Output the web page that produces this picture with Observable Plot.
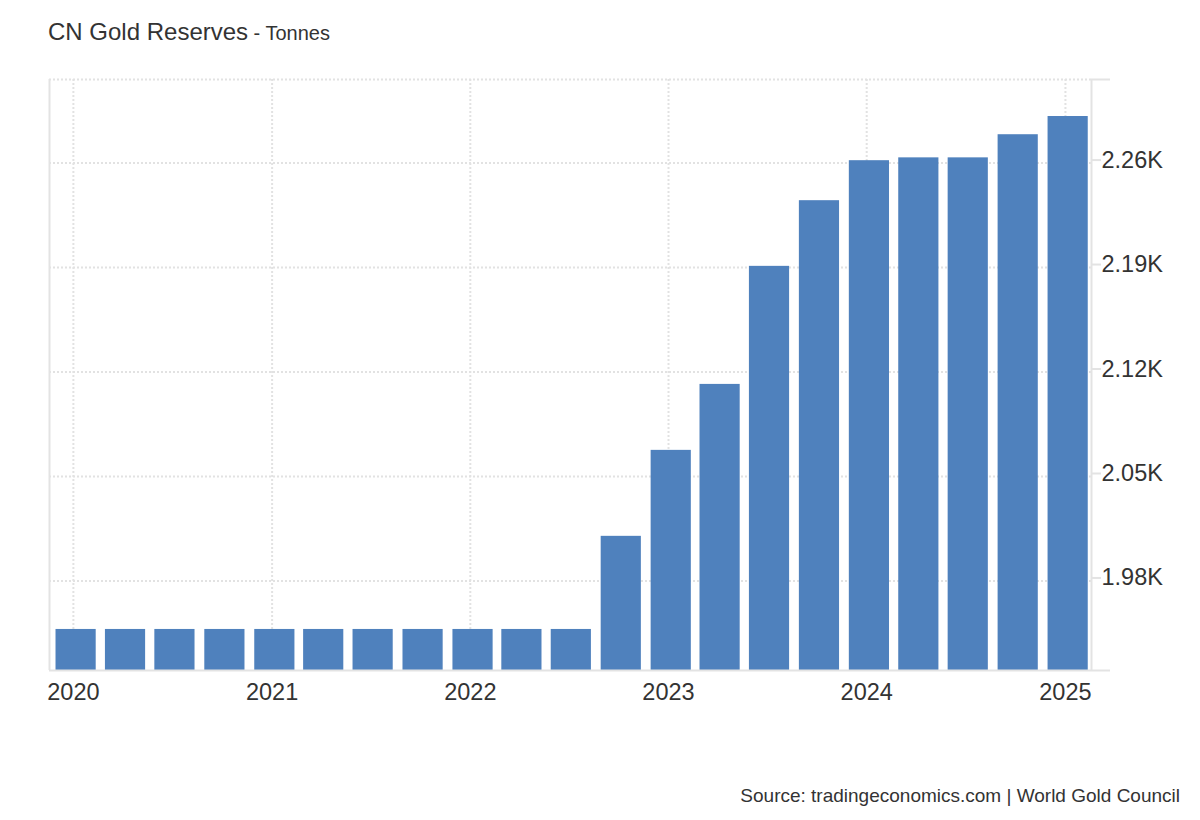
<!DOCTYPE html>
<html>
<head>
<meta charset="utf-8">
<script src="https://cdn.jsdelivr.net/npm/d3@7"></script>
<script src="https://cdn.jsdelivr.net/npm/@observablehq/plot@0.6"></script>
<style>
  html, body { margin: 0; padding: 0; background: #fff; }
  #wrap { position: relative; width: 1200px; height: 820px; font-family: "Liberation Sans", Arial, sans-serif; }
  #title { position: absolute; left: 48px; top: 20px; line-height: 1; color: #333; font-size: 24px; white-space: nowrap; }
  #title .unit { font-size: 20px; }
  #source { position: absolute; right: 20px; top: 786px; line-height: 1; color: #333; font-size: 19px; white-space: nowrap; }
  #chart { position: absolute; left: 0; top: 0; }
</style>
</head>
<body>
<div id="wrap">
  <div id="chart"></div>
  <div id="title">CN Gold Reserves<span class="unit"> - Tonnes</span></div>
  <div id="source">Source: tradingeconomics.com | World Gold Council</div>
</div>
<script>
// Quarterly observations
const quarters = [
  "2020-01-01","2020-04-01","2020-07-01","2020-10-01",
  "2021-01-01","2021-04-01","2021-07-01","2021-10-01",
  "2022-01-01","2022-04-01","2022-07-01","2022-10-01",
  "2023-01-01","2023-04-01","2023-07-01","2023-10-01",
  "2024-01-01","2024-04-01","2024-07-01","2024-10-01",
  "2025-01-01"
];
const tonnes = [
  1947.5, 1947.5, 1947.5, 1947.5,
  1947.5, 1947.5, 1947.5, 1947.5,
  1947.5, 1947.5, 1947.5, 2009.9,
  2067.5, 2111.7, 2190.8, 2234.8,
  2261.6, 2263.5, 2263.5, 2279.0,
  2291.2
];
const yearTicks = ["2020-01-01","2021-01-01","2022-01-01","2023-01-01","2024-01-01","2025-01-01"];
const yTicks = [1980, 2050, 2120, 2190, 2260];

const data = quarters.map((q, i) => ({date: new Date(q), value: tonnes[i]}));
const years = yearTicks.map(d => new Date(d));

const DAY = 864e5;
const xMin = new Date("2019-11-18");
const xMax = new Date("2025-02-18");
const xAxisEnd = new Date("2025-03-25");
const yMin = 1920, yMax = 2316;

const gridStyle = {stroke: "#e2e2e2", strokeWidth: 2, strokeOpacity: 1, strokeDasharray: "2,2"};
const lineStyle = {stroke: "#e3e3e3", strokeWidth: 2};

const chart = Plot.plot({
  width: 1200,
  height: 820,
  marginTop: 79,
  marginBottom: 150,
  marginLeft: 49,
  marginRight: 109,
  style: {fontFamily: "'Liberation Sans', Arial, sans-serif", background: "transparent", overflow: "visible"},
  x: {type: "time", domain: [xMin, xMax]},
  y: {domain: [yMin, yMax]},
  marks: [
    Plot.gridX(years, gridStyle),
    Plot.gridY(yTicks, gridStyle),
    Plot.ruleY([yMax], gridStyle),
    Plot.ruleX([xMin], lineStyle),
    Plot.ruleX([xMax], lineStyle),
    Plot.rectY(data, {
      x1: d => new Date(+d.date - 32 * DAY),
      x2: d => new Date(+d.date + 42 * DAY),
      y1: yMin,
      y2: "value",
      fill: "#4f81bd"
    }),
    Plot.ruleY([yMin], {...lineStyle, x1: xMin, x2: xAxisEnd}),
    Plot.ruleY([yMax], {...lineStyle, x1: xMax, x2: xAxisEnd}),
    Plot.axisY(yTicks, {
      anchor: "right",
      tickSize: 9,
      tickPadding: 1,
      stroke: "#e3e3e3",
      strokeWidth: 2,
      fill: "#333",
      fontSize: 23.5,
      dy: -3,
      tickFormat: d => (d / 1000).toFixed(2) + "K",
      label: null
    }),
    Plot.axisX(years, {
      anchor: "bottom",
      tickSize: 0,
      tickPadding: 13,
      fill: "#333",
      fontSize: 23.5,
      tickFormat: d3.timeFormat("%Y"),
      label: null
    })
  ]
});
document.getElementById("chart").appendChild(chart);
</script>
</body>
</html>
